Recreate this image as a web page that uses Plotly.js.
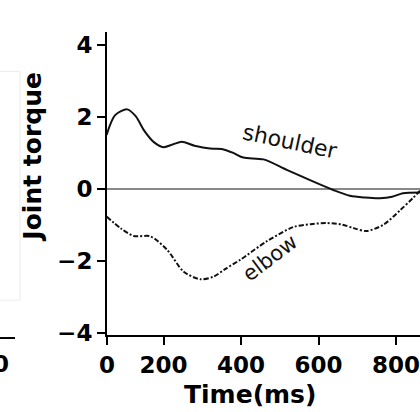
<!DOCTYPE html>
<html>
<head>
<meta charset="utf-8">
<script src="https://cdn.plot.ly/plotly-3.0.1.min.js"></script>
<style>html,body{margin:0;padding:0;background:#fff;}#chart{width:420px;height:412px;}</style>
</head>
<body>
<div id="chart"></div>
<script>
// Time (ms) sample points
const shoulderTime = [53, 75, 106, 128, 150, 175, 200, 225, 247, 280, 320, 350, 380, 406, 458, 518, 587, 638, 681, 720, 758, 790, 818, 862];
const shoulderTorque = [1.5, 2.05, 2.21, 2.02, 1.62, 1.3, 1.16, 1.24, 1.31, 1.2, 1.12, 1.11, 1.0, 0.87, 0.82, 0.53, 0.2, -0.03, -0.19, -0.24, -0.26, -0.22, -0.12, -0.1];
const elbowTime = [53, 90, 123, 166, 209, 252, 295, 329, 360, 398, 466, 535, 580, 621, 660, 690, 724, 767, 810, 844, 862];
const elbowTorque = [-0.77, -1.1, -1.31, -1.32, -1.69, -2.3, -2.51, -2.44, -2.22, -1.97, -1.46, -1.06, -0.98, -0.95, -0.99, -1.09, -1.17, -1.0, -0.6, -0.25, -0.05];
const xTickVals = [54, 200, 400, 600, 800];
const xTickText = ["0", "200", "400", "600", "800"];
const yTickVals = [-4, -2, 0, 2, 4];
const seriesLabels = ["shoulder", "elbow"];
const axisTitles = ["Time(ms)", "Joint torque"];

const bold = {family: "DejaVu Sans", size: 23, color: "#000", weight: "bold"};
const titleFont = {family: "DejaVu Sans", size: 25, color: "#000", weight: "bold"};

const traces = [
  {x: shoulderTime, y: shoulderTorque, type: "scatter", mode: "lines", name: seriesLabels[0],
   line: {color: "#111", width: 2, shape: "spline", smoothing: 0.8}},
  {x: elbowTime, y: elbowTorque, type: "scatter", mode: "lines", name: seriesLabels[1],
   line: {color: "#111", width: 2, shape: "spline", smoothing: 0.8, dash: "5px,2px,2px,2px"}}
];

const layout = {
  width: 420, height: 412,
  margin: {l: 107, r: 0, t: 32, b: 77},
  paper_bgcolor: "#fff", plot_bgcolor: "#fff",
  showlegend: false,
  xaxis: {
    range: [54, 862], showgrid: false, zeroline: false,
    showline: true, linecolor: "#000", linewidth: 2,
    ticks: "outside", ticklen: 8, tickwidth: 2, tickcolor: "#000",
    tickmode: "array", tickvals: xTickVals, ticktext: xTickText,
    tickfont: bold
  },
  yaxis: {
    range: [-4.06, 4.36], showgrid: false,
    zeroline: true, zerolinecolor: "#888", zerolinewidth: 1.5,
    showline: true, linecolor: "#000", linewidth: 2,
    ticks: "outside", ticklen: 8, tickwidth: 2, tickcolor: "#000",
    tickmode: "array", tickvals: yTickVals,
    tickfont: bold
  },
  annotations: [
    {x: 0.457, y: -0.195, xref: "paper", yref: "paper", text: axisTitles[0], showarrow: false,
     xanchor: "center", yanchor: "middle", font: titleFont},
    {x: -0.238, y: 0.587, xref: "paper", yref: "paper", text: axisTitles[1], showarrow: false, textangle: -90,
     xanchor: "center", yanchor: "middle", font: titleFont},
    {x: 526, y: 1.31, xref: "x", yref: "y", text: seriesLabels[0], showarrow: false, textangle: 12,
     font: {family: "DejaVu Sans", size: 22, color: "#111"}},
    {x: 475, y: -1.92, xref: "x", yref: "y", text: seriesLabels[1], showarrow: false, textangle: -37,
     font: {family: "DejaVu Sans", size: 21, color: "#111"}},
    {x: -0.372, y: -0.045, xref: "paper", yref: "paper", xanchor: "left", yanchor: "top", text: "0", showarrow: false,
     font: {family: "DejaVu Sans", size: 23, color: "#000", weight: "bold"}}
  ],
  shapes: [
    {type: "line", xref: "paper", yref: "paper", x0: -0.345, x1: -0.294, y0: -0.01, y1: -0.01, line: {color: "#000", width: 2}},
    {type: "rect", xref: "paper", yref: "paper", x0: -0.40, x1: -0.278, y0: 0.115, y1: 0.87, line: {color: "#ececec", width: 1}}
  ]
};

Plotly.newPlot("chart", traces, layout, {displayModeBar: false, staticPlot: true});
</script>
</body>
</html>
